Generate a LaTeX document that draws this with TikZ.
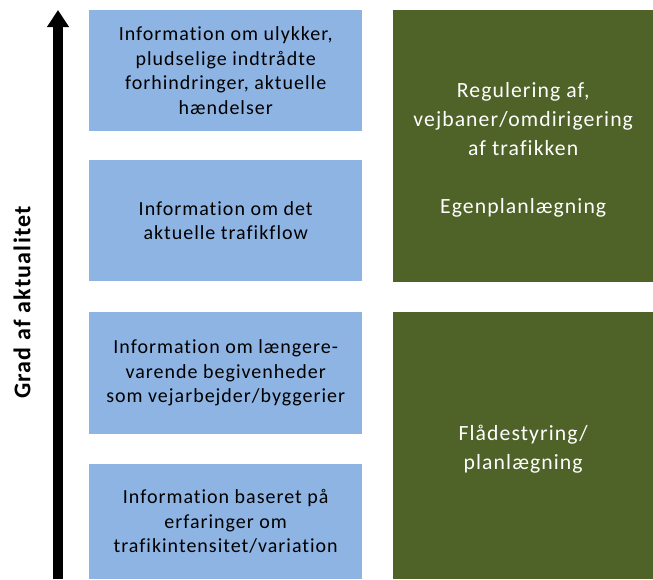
\documentclass[tikz,border=0pt]{standalone}
\usepackage{fontspec}
\setmainfont{Carlito}[Ligatures=NoCommon]
\newfontfamily\spacedfont{Carlito}[Ligatures=NoCommon,LetterSpace=5]
\usetikzlibrary{arrows.meta}
\definecolor{boxblue}{HTML}{8EB4E3}
\definecolor{boxgreen}{HTML}{4F6228}
\begin{document}
\begin{tikzpicture}[x=1pt,y=-1pt,
  bluebox/.style={fill=boxblue,draw=none,minimum width=273pt,inner sep=0pt,anchor=north west,align=center,font=\spacedfont\fontsize{20}{24.5}\selectfont,text=black},
  greenbox/.style={fill=boxgreen,draw=none,minimum width=260pt,inner sep=0pt,anchor=north west},
  greentext/.style={align=center,inner sep=0pt,font=\spacedfont\fontsize{21.7}{29}\selectfont,text=white}]
\useasboundingbox (0,0) rectangle (653,579);
\node[bluebox,minimum height=121pt] (b1) at (89,10) {Information om ulykker,\\pludselige indtrådte\\forhindringer, aktuelle\\hændelser};
\node[bluebox,minimum height=121pt] (b2) at (89,160) {Information om det\\aktuelle trafikflow};
\node[bluebox,minimum height=122pt] (b3) at (89,312) {Information om længere-\\varende begivenheder\\som vejarbejder/byggerier};
\node[bluebox,minimum height=115pt] (b4) at (89,464) {Information baseret på\\erfaringer om\\trafikintensitet/variation};
\node[greenbox,minimum height=272pt] (g1) at (393,10) {};
\node[greenbox,minimum height=267pt] (g2) at (393,312) {};
\node[greentext] (g1t) at ([yshift=-4pt]g1.center) {Regulering af,\\vejbaner/omdirigering\\af trafikken\\[29pt]Egenplanlægning};
\node[greentext] (g2t) at ([yshift=-3pt]g2.center) {Flådestyring/\\planlægning};
\coordinate (abot) at (58,579);
\coordinate (atop) at (58,10);
\draw[line width=10pt,-{Triangle[length=17pt,width=21pt]}] (abot) -- (atop);
\node[rotate=90,font=\spacedfont\fontsize{24}{28}\selectfont\bfseries] (lbl) at (22,302.5) {Grad af aktualitet};
\end{tikzpicture}
\end{document}
